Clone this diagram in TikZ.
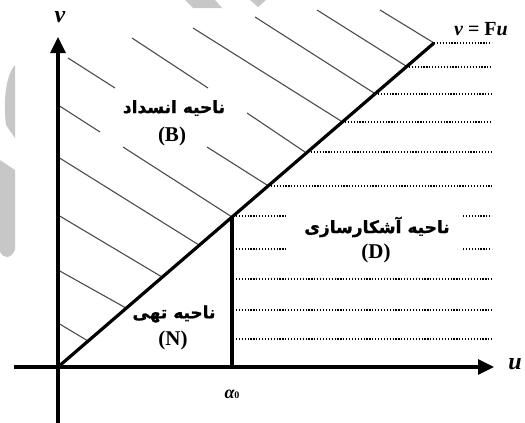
\documentclass[tikz,border=0pt]{standalone}
\usepackage{fontspec}
\setmainfont{Liberation Serif}
\newfontfamily\arabicfont[Script=Arabic,FakeBold=1.2]{DejaVu Sans Bold}
\TeXXeTstate=1
\usetikzlibrary{arrows.meta}
\begin{document}
\begin{tikzpicture}[x=1pt,y=-1pt,
  axisline/.style={line width=3.2pt,-{Triangle[length=16pt,width=15pt]}},
  boldline/.style={line width=3.2pt},
  hatchline/.style={line width=1.1pt,black!70},
  dotline/.style={line width=1.1pt,dash pattern=on 1.2pt off 1.7pt},
  fatext/.style={font=\arabicfont\fontsize{17}{19}\selectfont,inner sep=0pt},
  latext/.style={font=\bfseries\fontsize{21}{23}\selectfont,inner sep=0pt},
  axlabel/.style={font=\bfseries\itshape\fontsize{24}{24}\selectfont,inner sep=0pt},
  wmark/.style={fill=black!22,draw=none}
]
\useasboundingbox (0,0) rectangle (525,423);
% watermark fragments
\fill[wmark] (185,0) -- (215,0) -- (222,8) -- (193,8) -- cycle;
\fill[wmark] (250,0) -- (266,0) -- (258,7) -- cycle;
\fill[wmark] (15,65) .. controls (6,75) and (3,100) .. (6,125) -- (15,138) -- cycle;
\fill[wmark] (0,160) -- (15,170) -- (15,250) .. controls (10,260) and (3,258) .. (0,252) -- cycle;

% key coordinates
\coordinate (O) at (58,367);
\coordinate (T) at (434,43);
\coordinate (A) at (232,217);
\coordinate (A0) at (232,367);
\coordinate (vbot) at (58,423);
\coordinate (vtop) at (58,37);
\coordinate (uleft) at (14,367);
\coordinate (uright) at (494,367);

% hatch lines (blocking region)
\draw[hatchline] (380,10) -- (T);
\draw[hatchline] (317,10) -- (406,66);
\draw[hatchline] (255,17) -- (374,93);
\draw[hatchline] (193,28) -- (341,121);
\draw[hatchline] (132,38) -- (208,88);
\draw[hatchline] (247,113) -- (305,152);
\draw[hatchline] (68,58) -- (115,88);
\draw[hatchline] (207,147) -- (267,185);
\draw[hatchline] (58,105) -- (100,132);
\draw[hatchline] (123,147) -- (A);
\draw[hatchline] (58,157) -- (199,245);
\draw[hatchline] (58,215) -- (162,277);
\draw[hatchline] (58,270) -- (126,308);
\draw[hatchline] (58,323) -- (88,341);

% dotted lines (detection region)
\draw[dotline] (T) -- (492,43);
\draw[dotline] (406,67) -- (492,67);
\draw[dotline] (375,94) -- (492,94);
\draw[dotline] (342,122) -- (492,122);
\draw[dotline] (308,152) -- (492,152);
\draw[dotline] (268,186) -- (492,186);
\draw[dotline] (233,216) -- (288,216);
\draw[dotline] (463,216) -- (492,216);
\draw[dotline] (233,249) -- (288,249);
\draw[dotline] (463,249) -- (492,249);
\draw[dotline] (233,279) -- (492,279);
\draw[dotline] (233,310) -- (492,310);
\draw[dotline] (233,339) -- (492,339);

% axes and main lines
\draw[axisline] (vbot) -- (vtop);
\draw[axisline] (uleft) -- (uright);
\draw[boldline] (O) -- (T);
\draw[boldline] (A0) -- (A);

% labels
\node[axlabel] (vl) at (60,17) {v};
\node[axlabel] (ul) at (515,364) {u};
\node[font=\bfseries\fontsize{20}{22}\selectfont,inner sep=0pt,anchor=east] (eq) at (508,29) {\textit{v} = F\textit{u}};
\node[inner sep=0pt] (al) at (232,394) {{\bfseries\itshape\fontsize{18}{18}\selectfont α}{\bfseries\fontsize{10}{10}\selectfont 0}};

\node[fatext] (tB) at (174,108) {\beginR ناحیه انسداد\endR};
\node[latext] (lB) at (172,136) {(B)};
\node[fatext] (tD) at (377,227) {\beginR ناحیه آشکارسازی\endR};
\node[latext] (lD) at (376,253) {(D)};
\node[fatext] (tN) at (174,314) {\beginR ناحیه تهی\endR};
\node[latext] (lN) at (173,340) {(N)};
\end{tikzpicture}
\end{document}
